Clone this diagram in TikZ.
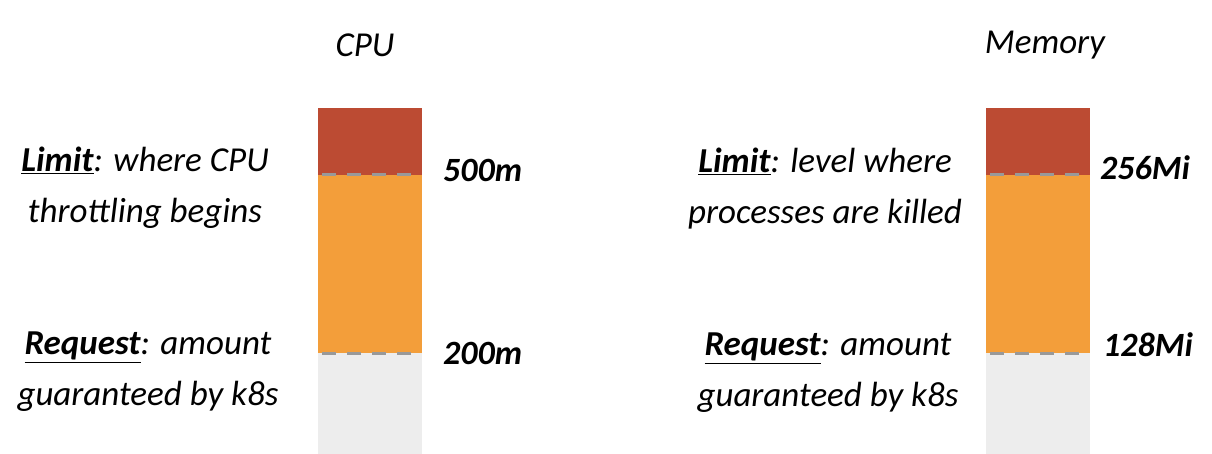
\documentclass[tikz,border=0pt]{standalone}
\usepackage{fontspec}
\setmainfont{Carlito}
\begin{document}
\begin{tikzpicture}[x=1pt,y=-1pt,
  lbl/.style={font=\fontsize{35}{51}\selectfont\itshape, inner sep=0pt, align=center},
  val/.style={font=\fontsize{34}{40}\selectfont\bfseries\itshape, inner sep=0pt, anchor=west},
  ttl/.style={font=\fontsize{35}{40}\selectfont\itshape, inner sep=0pt},
  dline/.style={draw=black!40, line width=3pt, dash pattern=on 14pt off 11pt}]
\useasboundingbox (0,0) rectangle (1212,454);
\definecolor{lim}{HTML}{BC4B33}
\definecolor{req}{HTML}{F39E3A}
\definecolor{base}{HTML}{EDEDED}
% CPU bar
\fill[lim] (318,108) rectangle (422,175);
\fill[req] (318,175) rectangle (422,353);
\fill[base] (318,353) rectangle (422,454);
\coordinate (c1a) at (322,175); \coordinate (c1b) at (422,175);
\coordinate (c2a) at (322,353); \coordinate (c2b) at (422,353);
\draw[dline] (c1a) -- (c1b);
\draw[dline] (c2a) -- (c2b);
% Memory bar
\fill[lim] (986,108) rectangle (1090,175);
\fill[req] (986,175) rectangle (1090,353);
\fill[base] (986,353) rectangle (1090,454);
\coordinate (m1a) at (990,175); \coordinate (m1b) at (1090,175);
\coordinate (m2a) at (990,353); \coordinate (m2b) at (1090,353);
\draw[dline] (m1a) -- (m1b);
\draw[dline] (m2a) -- (m2b);
% titles
\node[ttl] (cpu) at (365,45) {CPU};
\node[ttl] (mem) at (1045,45) {Memory};
% values
\node[val] (v500) at (443,170) {500m};
\node[val] (v200) at (443,353) {200m};
\node[val] (v256) at (1100,168) {256Mi};
\node[val] (v128) at (1103,345) {128Mi};
% descriptions
\node[lbl] (cl) at (145,188) {\textbf{\underline{Limit}}: where CPU\\throttling begins};
\node[lbl] (cr) at (148,372) {\textbf{\underline{Request}}: amount\\guaranteed by k8s};
\node[lbl] (ml) at (825,189) {\textbf{\underline{Limit}}: level where\\processes are killed};
\node[lbl] (mr) at (828,373) {\textbf{\underline{Request}}: amount\\guaranteed by k8s};
\end{tikzpicture}
\end{document}
